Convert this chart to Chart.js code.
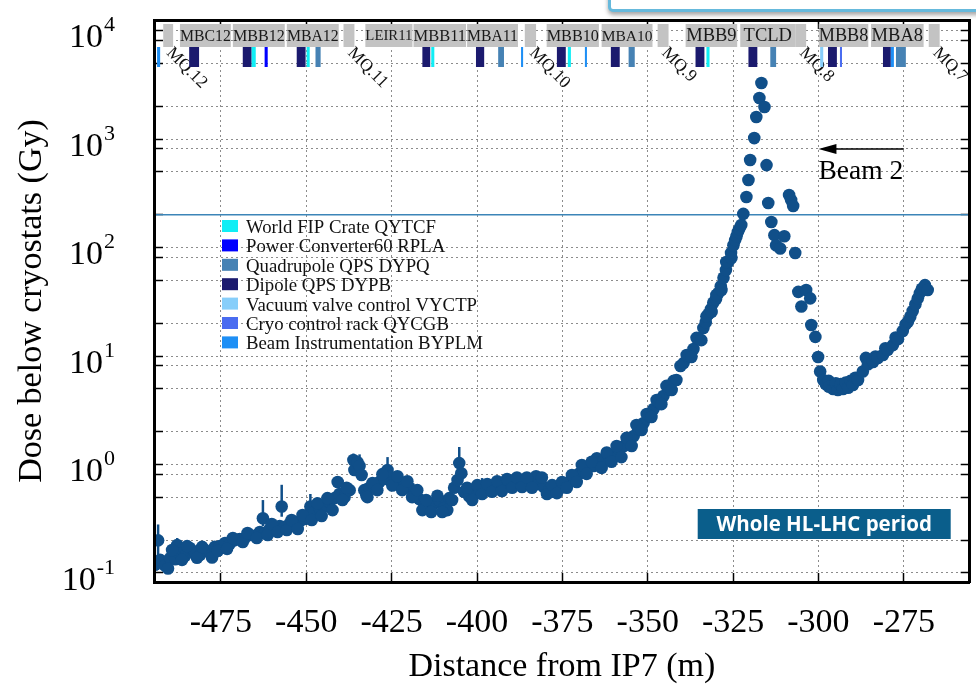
<!DOCTYPE html>
<html>
<head>
<meta charset="utf-8">
<script src="https://cdn.jsdelivr.net/npm/chart.js@4.4.0/dist/chart.umd.min.js"></script>
<style>
html, body { margin: 0; padding: 0; background: #fff; }
#wrap { position: relative; width: 976px; height: 690px; overflow: hidden; }
#chart { position: absolute; left: 0; top: 0; }
#slideBox { position: absolute; left: 608px; top: -40px; width: 400px; height: 46px;
  border: 3px solid #66b9dc; border-radius: 5px; background: #fff;
  box-shadow: 0 3px 4px rgba(0,0,0,0.35); }
</style>
</head>
<body>
<div id="wrap">
  <canvas id="chart" width="976" height="690"></canvas>
  <div id="slideBox"></div>
</div>
<script>
const serif = '"Liberation Serif", "DejaVu Serif", serif';

// axes
const xMin = -494.6, xMax = -255.7;
const yMin = 0.0826, yMax = 12500;
const xTicks = [-475, -450, -425, -400, -375, -350, -325, -300, -275];
const yMajors = [0.1, 1, 10, 100, 1000, 10000];
const yExponents = ['-1', '0', '1', '2', '3', '4'];
const yMinors = [0.2, 0.5, 2, 5, 20, 50, 200, 500, 2000, 5000];
const yShadow = [0.81, 8.1, 81, 810, 8100]; // second (offset) grid of the pasted strip

// dose below cryostats (Gy) vs distance from IP7 (m)
const doseX = [
  -494.3, -493.4, -492.8, -491.4, -489.9, -488.4, -487.8, -487.0, -485.5, -484.1,
  -482.6, -481.1, -479.7, -478.2, -476.8, -475.3, -473.8, -472.4, -470.9, -469.5,
  -468.0, -466.5, -465.1, -463.6, -462.7, -462.2, -460.7, -459.2, -457.8, -457.2,
  -456.3, -454.9, -453.4, -451.9, -450.5, -449.0, -448.8, -447.6, -446.1, -444.6,
  -443.2, -441.7, -440.8, -440.3, -438.8, -437.3, -436.2, -435.9, -435.0, -434.4,
  -433.8, -433.0, -432.4, -431.5, -430.0, -428.6, -427.1, -426.2, -425.7, -424.2,
  -422.7, -421.3, -419.8, -418.4, -416.9, -415.4, -414.0, -412.5, -411.1, -409.6,
  -408.7, -408.1, -406.7, -405.7, -405.2, -404.6, -403.8, -402.3, -400.8, -399.4,
  -397.9, -396.5, -395.0, -393.5, -392.1, -390.6, -389.2, -387.7, -386.2, -384.8,
  -383.3, -382.7, -381.9, -380.4, -378.9, -377.5, -376.0, -374.6, -373.1, -371.6,
  -370.2, -368.7, -367.3, -365.8, -364.9, -364.3, -362.9, -361.4, -360.0, -358.5,
  -357.0, -355.6, -354.1, -352.7, -351.2, -349.7, -348.3, -346.8, -345.4, -343.9,
  -342.4, -341.6, -340.4, -339.5, -338.1, -336.6, -335.1, -333.7, -333.0, -332.2,
  -331.5, -330.8, -330.0, -329.3, -328.6, -327.8, -327.1, -326.4, -325.6, -324.9,
  -324.4, -324.0, -323.6, -323.2, -322.6, -322.0, -321.1, -320.5, -320.0, -318.8,
  -318.2, -317.3, -316.7, -315.8, -315.2, -314.7, -313.8, -312.9, -312.4, -311.2,
  -310.0, -308.6, -308.0, -307.4, -306.8, -305.9, -305.0, -303.6, -302.4, -302.1,
  -300.9, -300.1, -299.5, -298.6, -297.8, -297.0, -296.9, -295.7, -294.9, -294.3,
  -293.5, -292.8, -292.0, -291.3, -290.6, -289.9, -289.2, -288.4, -287.0, -286.1,
  -285.5, -284.0, -283.3, -282.6, -281.1, -280.4, -279.7, -278.2, -277.4, -276.7,
  -275.3, -274.5, -273.8, -273.1, -272.4, -271.6, -270.9, -270.3, -269.7, -268.8,
  -268.0
];
const doseY = [
  0.119, 0.20, 0.132, 0.117, 0.137, 0.134, 0.181, 0.150, 0.144, 0.170,
  0.157, 0.147, 0.163, 0.157, 0.174, 0.177, 0.189, 0.186, 0.201, 0.205,
  0.210, 0.224, 0.220, 0.239, 0.320, 0.234, 0.254, 0.249, 0.271, 0.410,
  0.266, 0.283, 0.271, 0.300, 0.315, 0.350, 0.410, 0.365, 0.397, 0.410,
  0.450, 0.490, 0.690, 0.535, 0.500, 0.580, 1.10, 0.890, 1.05, 0.970,
  0.800, 0.580, 0.520, 0.610, 0.635, 0.690, 0.735, 0.890, 0.780, 0.700,
  0.690, 0.635, 0.610, 0.535, 0.480, 0.423, 0.387, 0.440, 0.471, 0.397,
  0.380, 0.490, 0.610, 0.720, 1.03, 0.830, 0.560, 0.510, 0.560, 0.590,
  0.580, 0.635, 0.610, 0.660, 0.635, 0.690, 0.660, 0.720, 0.690, 0.735,
  0.700, 0.780, 0.660, 0.620, 0.580, 0.560, 0.590, 0.635, 0.690, 0.735,
  0.820, 0.870, 0.950, 0.970, 1.14, 1.04, 1.08, 1.20, 1.22, 1.39,
  1.48, 1.68, 1.83, 2.12, 2.41, 2.80, 3.25, 3.75, 4.28, 4.97,
  5.90, 6.00, 8.10, 8.60, 9.80, 11.6, 14.3, 18.1, 20.5, 24.4,
  27.0, 31.0, 33.5, 38.1, 44.0, 52.6, 62.0, 73.6, 89.0, 105,
  117, 127, 139, 148, 161, 204, 292, 419, 640, 1020,
  1595, 2390, 3280, 1970, 575, 257, 172, 130, 105, 98,
  127, 305, 274, 241, 89, 39, 28.6, 40.6, 34, 19.3,
  15.0, 9.8, 7.2, 6.0, 5.5, 5.9, 5.2, 4.96, 5.6, 4.86,
  5.5, 4.96, 5.7, 5.1, 5.9, 5.4, 6.3, 6.0, 7.2, 9.6,
  8.4, 8.8, 9.9, 9.6, 10.2, 11.8, 11.4, 12.6, 14.8, 14.3,
  17.0, 19.5, 20.7, 23.0, 26.0, 30.0, 34.0, 38.0, 41.7, 45.0,
  40.6
];
// further samples of the same series along the upper / lower edge of the scatter band
const doseEdgeX = [
  -490.5, -489.3, -486.4, -484.9, -482.0, -480.5, -477.6, -475.9, -473.2, -471.5,
  -468.6, -467.2, -464.5, -461.3, -460.1, -458.4, -455.7, -454.3, -452.5, -451.1,
  -448.4, -446.7, -445.5, -443.8, -442.3, -439.4, -438.2, -432.1, -430.6, -429.2,
  -427.7, -424.8, -423.3, -421.9, -420.4, -419.0, -417.5, -416.0, -414.9, -413.4,
  -411.6, -410.2, -407.3, -402.9, -401.4, -399.9, -398.5, -397.0, -395.6, -394.1,
  -392.7, -391.2, -389.7, -388.3, -386.8, -385.4, -383.9, -381.0, -379.5, -378.0,
  -376.6, -375.1, -373.7, -372.2, -370.8, -369.3, -367.9, -366.4, -363.5, -362.0,
  -360.6, -359.1, -357.7, -356.2, -354.7, -353.3, -351.8, -350.3, -348.9, -347.4,
  -346.0, -344.5, -343.0, -338.6, -337.2, -335.7, -334.3, -332.8, -331.3, -329.9,
  -328.4, -327.0, -325.5
];
const doseEdgeY = [
  0.110, 0.163, 0.132, 0.177, 0.138, 0.174, 0.139, 0.160, 0.167, 0.210,
  0.193, 0.234, 0.210, 0.224, 0.283, 0.239, 0.249, 0.308, 0.254, 0.342,
  0.308, 0.440, 0.335, 0.490, 0.380, 0.470, 0.610, 0.500, 0.675, 0.580,
  0.815, 0.640, 0.780, 0.580, 0.700, 0.500, 0.580, 0.380, 0.470, 0.365,
  0.515, 0.365, 0.470, 0.610, 0.470, 0.645, 0.535, 0.660, 0.560, 0.700,
  0.570, 0.735, 0.610, 0.760, 0.620, 0.760, 0.610, 0.760, 0.535, 0.645,
  0.545, 0.690, 0.610, 0.800, 0.690, 0.990, 0.820, 1.06, 0.930, 1.29,
  1.06, 1.48, 1.17, 1.76, 1.48, 2.31, 2.08, 2.92, 2.74, 3.93,
  3.60, 5.30, 4.86, 10.2, 9.80, 14.7, 14.0, 23.2, 25.5, 36.5,
  40.6, 73.6, 80.0
];

// visible error bars
const errX  = [-493.4, -487.8, -462.7, -457.2, -448.8, -436.2, -434.4, -426.2, -405.2, -398.5];
const errLo = [0.13, 0.16, 0.27, 0.33, 0.36, 0.95, 0.90, 0.75, 0.85, 0.50];
const errHi = [0.28, 0.21, 0.47, 0.65, 0.535, 1.26, 1.24, 1.17, 1.45, 0.75];

const thresholdGy = 200;
const doseColor = '#104f89';

// magnet layout strip (m)
const magnetNames = ['MBC12', 'MBB12', 'MBA12', 'LEIR11', 'MBB11', 'MBA11', 'MBB10', 'MBA10', 'MBB9', 'TCLD', 'MBB8', 'MBA8'];
const magnetStart = [-487.0, -471.5, -455.7, -432.7, -418.6, -402.9, -379.6, -363.5, -338.9, -322.9, -299.9, -284.6];
const magnetEnd   = [-472.1, -456.3, -440.5, -418.9, -403.2, -388.0, -364.3, -348.6, -323.8, -306.8, -285.4, -269.2];
const quadNames = ['MQ.12', 'MQ.11', 'MQ.10', 'MQ.9', 'MQ.8', 'MQ.7'];
const quadStart = [-491.9, -439.1, -386.0, -347.1, -306.8, -267.7];
const quadEnd   = [-489.0, -435.9, -382.7, -343.9, -303.6, -264.5];

// electronics racks
const legendNames = ['World FIP Crate QYTCF', 'Power Converter60 RPLA', 'Quadrupole QPS DYPQ', 'Dipole QPS DYPB',
  'Vacuum valve control VYCTP', 'Cryo control rack QYCGB', 'Beam Instrumentation BYPLM'];
const legendColors = ['#10eef5', '#0000ff', '#4682b4', '#1b1a6e', '#87cefa', '#4a6cf0', '#1e8ff5'];
const rackStart = [-493.7, -484.3, -468.6, -466.0, -462.2, -452.8, -449.9, -447.3, -416.0, -413.4,
  -400.3, -393.8, -387.1, -376.6, -373.4, -368.4, -360.8, -355.6, -336.0, -332.8,
  -320.5, -314.1, -299.5, -297.2, -293.7, -281.1, -278.8, -277.3];
const rackEnd = [-492.8, -481.4, -466.0, -464.8, -461.3, -450.2, -449.0, -445.8, -413.7, -412.5,
  -397.9, -392.1, -386.5, -374.0, -372.5, -367.8, -358.2, -353.8, -333.4, -331.9,
  -317.9, -312.4, -298.6, -294.6, -293.1, -278.8, -277.9, -274.4];
const rackType = [6, 3, 3, 0, 1, 3, 0, 2, 3, 0,
  3, 2, 6, 3, 0, 6, 3, 2, 3, 0,
  3, 2, 4, 3, 5, 3, 6, 2];

// beam direction annotation
const beamArrowFrom = -275, beamArrowTo = -300, beamArrowGy = 809, beamTextGy = 496;

const yGridValues = yMajors.concat(yMinors, yShadow).sort((a, b) => a - b);

const gridOpts = { color: '#8c8c8c', lineWidth: 1, tickLength: -9, tickColor: '#000', tickWidth: 1.5, tickBorderDash: [] };
const borderOpts = { display: true, color: '#000', width: 3, dash: [2, 3], z: 1 };

function pinSize(prop, size) {
  return s => {
    s[prop] = size;
    s.paddingTop = 0; s.paddingBottom = 0; s.paddingLeft = 0; s.paddingRight = 0;
  };
}

const decor = {
  id: 'decor',
  beforeDatasetsDraw(chart) {
    const { ctx, scales: { x, y } } = chart;
    ctx.save();
    ctx.strokeStyle = doseColor;
    ctx.lineWidth = 2.5;
    errX.forEach((v, i) => {
      const px = x.getPixelForValue(v);
      ctx.beginPath();
      ctx.moveTo(px, y.getPixelForValue(errLo[i]));
      ctx.lineTo(px, y.getPixelForValue(errHi[i]));
      ctx.stroke();
    });
    ctx.restore();
  },
  afterDatasetsDraw(chart) {
    const { ctx, chartArea: ca, scales: { x, y } } = chart;
    ctx.save();

    // magnet name boxes
    const boxTop = ca.top + 4, boxH = 23;
    magnetNames.forEach((name, i) => {
      const x0 = x.getPixelForValue(magnetStart[i]);
      const x1 = x.getPixelForValue(magnetEnd[i]);
      ctx.fillStyle = '#c3c3c3';
      ctx.fillRect(x0, boxTop, x1 - x0, boxH);
      ctx.font = '100px ' + serif;
      const w = ctx.measureText(name).width;
      const size = Math.min(18.5, 100 * (x1 - x0) / w);
      ctx.font = size.toFixed(1) + 'px ' + serif;
      ctx.fillStyle = '#1a1a1a';
      ctx.textAlign = 'center';
      ctx.textBaseline = 'middle';
      ctx.fillText(name, (x0 + x1) / 2, boxTop + boxH / 2 + 1);
    });

    // quadrupoles: small boxes + slanted labels
    quadNames.forEach((name, i) => {
      const x0 = x.getPixelForValue(quadStart[i]);
      const x1 = x.getPixelForValue(quadEnd[i]);
      ctx.fillStyle = '#c3c3c3';
      ctx.fillRect(x0, boxTop, x1 - x0, boxH);
      ctx.save();
      ctx.translate(x1 + 2, ca.top + 24);
      ctx.rotate(Math.PI / 4);
      ctx.font = '17.5px ' + serif;
      ctx.fillStyle = '#111';
      ctx.textAlign = 'left';
      ctx.textBaseline = 'top';
      ctx.fillText(name, 0, 0);
      ctx.restore();
    });

    // racks
    rackStart.forEach((s, i) => {
      const x0 = x.getPixelForValue(s);
      const x1 = x.getPixelForValue(rackEnd[i]);
      ctx.fillStyle = legendColors[rackType[i]];
      ctx.fillRect(x0, ca.top + 27, Math.max(x1 - x0, 2), 20);
    });

    // legend of rack types
    const lx = ca.left + 68;
    legendNames.forEach((name, i) => {
      const cy = ca.top + 206 + i * 19.4;
      ctx.fillStyle = legendColors[i];
      ctx.fillRect(lx, cy - 6, 16, 12);
      ctx.font = '18.8px ' + serif;
      ctx.fillStyle = '#111';
      ctx.textAlign = 'left';
      ctx.textBaseline = 'middle';
      ctx.fillText(name, lx + 24, cy + 2);
    });

    // beam direction
    const ax0 = x.getPixelForValue(beamArrowFrom);
    const ax1 = x.getPixelForValue(beamArrowTo);
    const ay = y.getPixelForValue(beamArrowGy);
    ctx.strokeStyle = '#000';
    ctx.lineWidth = 1.5;
    ctx.beginPath();
    ctx.moveTo(ax0, ay);
    ctx.lineTo(ax1 + 12, ay);
    ctx.stroke();
    ctx.fillStyle = '#000';
    ctx.beginPath();
    ctx.moveTo(ax1, ay);
    ctx.lineTo(ax1 + 18, ay - 5);
    ctx.lineTo(ax1 + 18, ay + 5);
    ctx.closePath();
    ctx.fill();
    ctx.font = '27.5px ' + serif;
    ctx.textAlign = 'left';
    ctx.textBaseline = 'middle';
    ctx.fillText('Beam 2', ax1, y.getPixelForValue(beamTextGy));

    // period badge
    const bx0 = ca.right - 272, bx1 = ca.right - 19;
    const by0 = ca.bottom - 73, by1 = ca.bottom - 43;
    ctx.fillStyle = '#0a5e8b';
    ctx.fillRect(bx0, by0, bx1 - bx0, by1 - by0);
    ctx.fillStyle = '#fff';
    ctx.font = 'bold 20.5px "Open Sans", Lato, sans-serif';
    ctx.textAlign = 'center';
    ctx.textBaseline = 'middle';
    ctx.fillText('Whole HL-LHC period', (bx0 + bx1) / 2, (by0 + by1) / 2 + 1);

    // y tick labels as 10 with raised exponent
    const right = ca.left - 39;
    yMajors.forEach((v, i) => {
      const py = y.getPixelForValue(v) + 8;
      ctx.font = '22px ' + serif;
      const ew = ctx.measureText(yExponents[i]).width;
      ctx.fillStyle = '#000';
      ctx.textBaseline = 'middle';
      ctx.textAlign = 'left';
      ctx.fillText(yExponents[i], right - ew, py - 13);
      ctx.font = '34px ' + serif;
      ctx.textAlign = 'right';
      ctx.fillText('10', right - ew - 1, py);
    });

    ctx.restore();
  }
};

const dosePoints = doseX.map((v, i) => ({ x: v, y: doseY[i] }))
  .concat(doseEdgeX.map((v, i) => ({ x: v, y: doseEdgeY[i] })));

new Chart(document.getElementById('chart'), {
  type: 'scatter',
  data: {
    datasets: [
      {
        data: dosePoints,
        backgroundColor: doseColor,
        borderWidth: 0,
        pointRadius: 6.3,
        pointHoverRadius: 6.3
      },
      {
        type: 'line',
        data: [{ x: xMin, y: thresholdGy }, { x: xMax, y: thresholdGy }],
        borderColor: '#3c85b8',
        borderWidth: 1.5,
        pointRadius: 0
      }
    ]
  },
  options: {
    responsive: false,
    animation: false,
    devicePixelRatio: 1,
    events: [],
    layout: { padding: 0 },
    plugins: { legend: { display: false }, tooltip: { enabled: false } },
    scales: {
      x: {
        type: 'linear', position: 'bottom', min: xMin, max: xMax, bounds: 'data',
        afterBuildTicks: s => { s.ticks = xTicks.map(v => ({ value: v })); },
        afterFit: pinSize('height', 108),
        ticks: { autoSkip: false, maxRotation: 0, padding: 30, color: '#000',
          font: { family: serif, size: 34 }, callback: v => String(v) },
        grid: gridOpts,
        border: borderOpts,
        title: { display: true, text: 'Distance from IP7 (m)', color: '#000',
          font: { family: serif, size: 34 }, padding: { top: 0, bottom: 3 } }
      },
      xTop: {
        type: 'linear', position: 'top', min: xMin, max: xMax, bounds: 'data',
        afterBuildTicks: s => { s.ticks = xTicks.map(v => ({ value: v })); },
        afterFit: pinSize('height', 20),
        ticks: { display: false },
        grid: Object.assign({}, gridOpts, { drawOnChartArea: false }),
        border: borderOpts
      },
      y: {
        type: 'logarithmic', position: 'left', min: yMin, max: yMax, bounds: 'data',
        afterBuildTicks: s => { s.ticks = yGridValues.map(v => ({ value: v })); },
        afterFit: pinSize('width', 154),
        ticks: { display: false, autoSkip: false },
        grid: gridOpts,
        border: borderOpts,
        title: { display: true, text: 'Dose below cryostats (Gy)', color: '#000',
          font: { family: serif, size: 34 }, padding: { top: 12, bottom: 0 } }
      },
      yRight: {
        type: 'logarithmic', position: 'right', min: yMin, max: yMax, bounds: 'data',
        afterBuildTicks: s => { s.ticks = yGridValues.map(v => ({ value: v })); },
        afterFit: pinSize('width', 4),
        ticks: { display: false },
        grid: Object.assign({}, gridOpts, { drawOnChartArea: false }),
        border: borderOpts
      }
    }
  },
  plugins: [decor]
});
</script>
</body>
</html>
